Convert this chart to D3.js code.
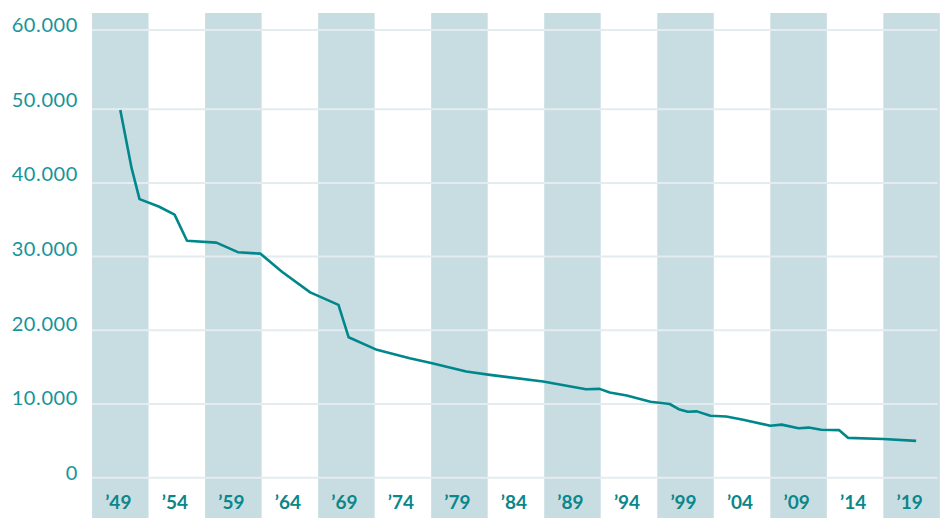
<!DOCTYPE html>
<html>
<head>
<meta charset="utf-8">
<script src="https://cdn.jsdelivr.net/npm/d3@7"></script>
<style>
  body { margin: 0; background: #fff; }
  svg { display: block; }
  text { font-family: Lato, "Open Sans", sans-serif; }
</style>
</head>
<body>
<div id="grafiek"></div>
<script>
// jaren (afgelezen, niet precies op hele jaren) en aantallen
const jaren = [1949.0, 1950.0, 1950.7, 1952.4, 1953.8, 1954.9, 1957.5, 1959.4, 1961.4,
  1963.3, 1965.8, 1968.3, 1969.2, 1971.7, 1974.6, 1976.4, 1979.6, 1981.7, 1986.4,
  1990.2, 1991.4, 1992.3, 1993.8, 1995.9, 1997.6, 1998.4, 1999.2, 2000.0, 2001.2,
  2002.6, 2004.1, 2006.5, 2007.5, 2009.0, 2009.9, 2011.0, 2012.6, 2013.4, 2016.5, 2019.4];
const aantallen = [49900, 42000, 37800, 36800, 35700, 32150, 31900, 30600, 30400,
  27950, 25150, 23450, 19050, 17350, 16200, 15600, 14400, 13950, 13050,
  12000, 12050, 11550, 11150, 10300, 10000, 9300, 8950, 9000, 8400,
  8300, 7850, 7050, 7200, 6700, 6800, 6500, 6450, 5400, 5250, 5000];

const banden = d3.range(1949, 2020, 5);          // '49, '54 ... '19
const yTicks = [0, 10000, 20000, 30000, 40000, 50000, 60000];

const breedte = 945, hoogte = 518;

const svg = d3.select('#grafiek').append('svg')
  .attr('width', breedte)
  .attr('height', hoogte);

const x = d3.scaleLinear().domain([1949, 2019]).range([120.3, 911.6]);
// de bovenste lijn ligt iets hoger dan lineair, vandaar drie punten
const y = d3.scaleLinear().domain([0, 50000, 60000]).range([477.7, 109.2, 30]);
const yLabel = d3.scaleLinear().domain([0, 60000]).range([473, 25]);

// gekleurde banden om de tien jaar
svg.append('g').selectAll('rect')
  .data(banden.filter((d, i) => i % 2 === 0))
  .join('rect')
  .attr('x', d => x(d - 2.5))
  .attr('width', d => x(d + 2.5) - x(d - 2.5))
  .attr('y', 13)
  .attr('height', hoogte - 13)
  .attr('fill', '#c8dde2');

// rasterlijnen
svg.append('g').selectAll('line')
  .data(yTicks)
  .join('line')
  .attr('x1', x(1946.5)).attr('x2', x(2021.3))
  .attr('y1', d => y(d)).attr('y2', d => y(d))
  .attr('stroke', '#e4ecef')
  .attr('stroke-width', 2);

// y-labels
const fmt = d3.formatLocale({decimal: ',', thousands: '.', grouping: [3], currency: ['€', '']}).format(',');
svg.append('g').selectAll('text')
  .data(yTicks)
  .join('text')
  .attr('x', 78)
  .attr('y', d => yLabel(d))
  .attr('dy', '0.35em')
  .attr('text-anchor', 'end')
  .attr('fill', '#15949a')
  .attr('font-size', 20)
  .attr('letter-spacing', 0.6)
  .text(d => fmt(d));

// x-labels
svg.append('g').selectAll('text')
  .data(banden)
  .join('text')
  .attr('x', d => x(d) - 2)
  .attr('y', 502)
  .attr('dy', '0.35em')
  .attr('text-anchor', 'middle')
  .attr('fill', '#0b868b')
  .attr('font-size', 19)
  .attr('font-weight', 'bold')
  .text(d => '\u2019' + String(d).slice(2));

// de lijn
const punten = jaren.map((j, i) => [j, aantallen[i]]);
const lijn = d3.line().x(d => x(d[0])).y(d => y(d[1]));
svg.append('path')
  .datum(punten)
  .attr('d', lijn)
  .attr('fill', 'none')
  .attr('stroke', '#00878c')
  .attr('stroke-width', 2.6)
  .attr('stroke-linejoin', 'round');
</script>
</body>
</html>
